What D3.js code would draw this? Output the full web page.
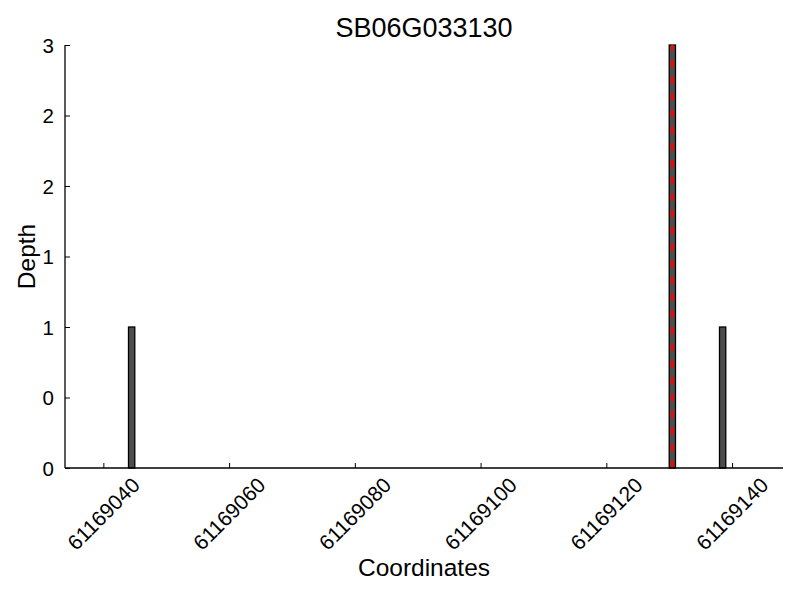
<!DOCTYPE html>
<html>
<head>
<meta charset="utf-8">
<script src="https://cdn.jsdelivr.net/npm/d3@7"></script>
<style>
  body { margin: 0; background: #fff; }
  text { font-family: "Liberation Sans", Arial, Helvetica, sans-serif; fill: #000; }
</style>
</head>
<body>
<svg id="chart" width="800" height="600"></svg>
<script>
// ---- data ----
const title = "SB06G033130";
const xLabel = "Coordinates";
const yLabel = "Depth";
const positions = [61169044, 61169130, 61169138];
const depths = [1, 3, 1];
const barWidth = 1;
const markerPositions = [61169130];
const xDomain = [61169033.9, 61169148.1];
const yDomain = [0, 3];
const xTicks = [61169040, 61169060, 61169080, 61169100, 61169120, 61169140];
const yTicks = [0, 0.5, 1, 1.5, 2, 2.5, 3];
const yTickLabels = ["0", "0", "1", "1", "2", "2", "3"];

// ---- layout ----
const svg = d3.select("#chart");
const L = 65, R = 783, T = 45, B = 468;
const x = d3.scaleLinear().domain(xDomain).range([L, R]);
const y = d3.scaleLinear().domain(yDomain).range([B, T]);

// bars
svg.append("g").selectAll("rect")
  .data(positions.map((p, i) => ({p, d: depths[i]})))
  .join("rect")
  .attr("x", d => x(d.p))
  .attr("width", d => x(d.p + barWidth) - x(d.p))
  .attr("y", d => y(d.d))
  .attr("height", d => y(0) - y(d.d))
  .attr("fill", "#4d4d4d")
  .attr("stroke", "#000")
  .attr("stroke-width", 1.3);

// red dashed marker lines
svg.append("g").selectAll("line")
  .data(markerPositions)
  .join("line")
  .attr("x1", d => x(d + barWidth / 2))
  .attr("x2", d => x(d + barWidth / 2))
  .attr("y1", y(yDomain[0]))
  .attr("y2", y(yDomain[1]))
  .attr("stroke", "#ff0000")
  .attr("stroke-width", 2.7)
  .attr("stroke-dasharray", "7.4,9.3");

// axes (ticks inward)
const xAxis = d3.axisBottom(x).tickValues(xTicks).tickSize(-5).tickFormat(d3.format("d"));
const gx = svg.append("g").attr("transform", `translate(0,${B})`).call(xAxis);
gx.select(".domain").attr("stroke", "#000").attr("stroke-width", 1.3).attr("d", `M${L},0H${R}`);
gx.selectAll(".tick line").attr("stroke", "#000").attr("stroke-width", 1);
gx.selectAll(".tick text").remove();

const yAxis = d3.axisLeft(y).tickValues(yTicks).tickSize(-5).tickFormat((d, i) => yTickLabels[i]);
const gy = svg.append("g").attr("transform", `translate(${L},0)`).call(yAxis);
gy.select(".domain").attr("stroke", "#000").attr("stroke-width", 1.3).attr("d", `M0,${B}V${T}`);
gy.selectAll(".tick line").attr("stroke", "#000").attr("stroke-width", 1);
gy.selectAll(".tick text")
  .attr("x", -11)
  .attr("dy", "0.36em")
  .style("font-size", "20.5px")
  .style("font-family", "'Liberation Sans', Arial, sans-serif");

// rotated x tick labels, bbox centered on tick
const xl = svg.append("g");
xTicks.forEach(t => {
  const txt = xl.append("text")
    .text(d3.format("d")(t))
    .style("font-size", "21px")
    .attr("text-anchor", "middle")
    .attr("dominant-baseline", "central");
  const len = txt.node().getComputedTextLength();
  const h = 15;
  const ext = (len + h) / Math.SQRT2;
  const cx = x(t), cy = B + 8 + ext / 2;
  txt.attr("transform", `translate(${cx},${cy}) rotate(-45)`);
});

// titles
svg.append("text").attr("x", (L + R) / 2).attr("y", 37)
  .attr("text-anchor", "middle").style("font-size", "27px").text(title);
svg.append("text").attr("x", (L + R) / 2).attr("y", 576)
  .attr("text-anchor", "middle").style("font-size", "24.5px").text(xLabel);
svg.append("text")
  .attr("transform", `translate(35,${(T + B) / 2}) rotate(-90)`)
  .attr("text-anchor", "middle").style("font-size", "24.5px").text(yLabel);
</script>
</body>
</html>
